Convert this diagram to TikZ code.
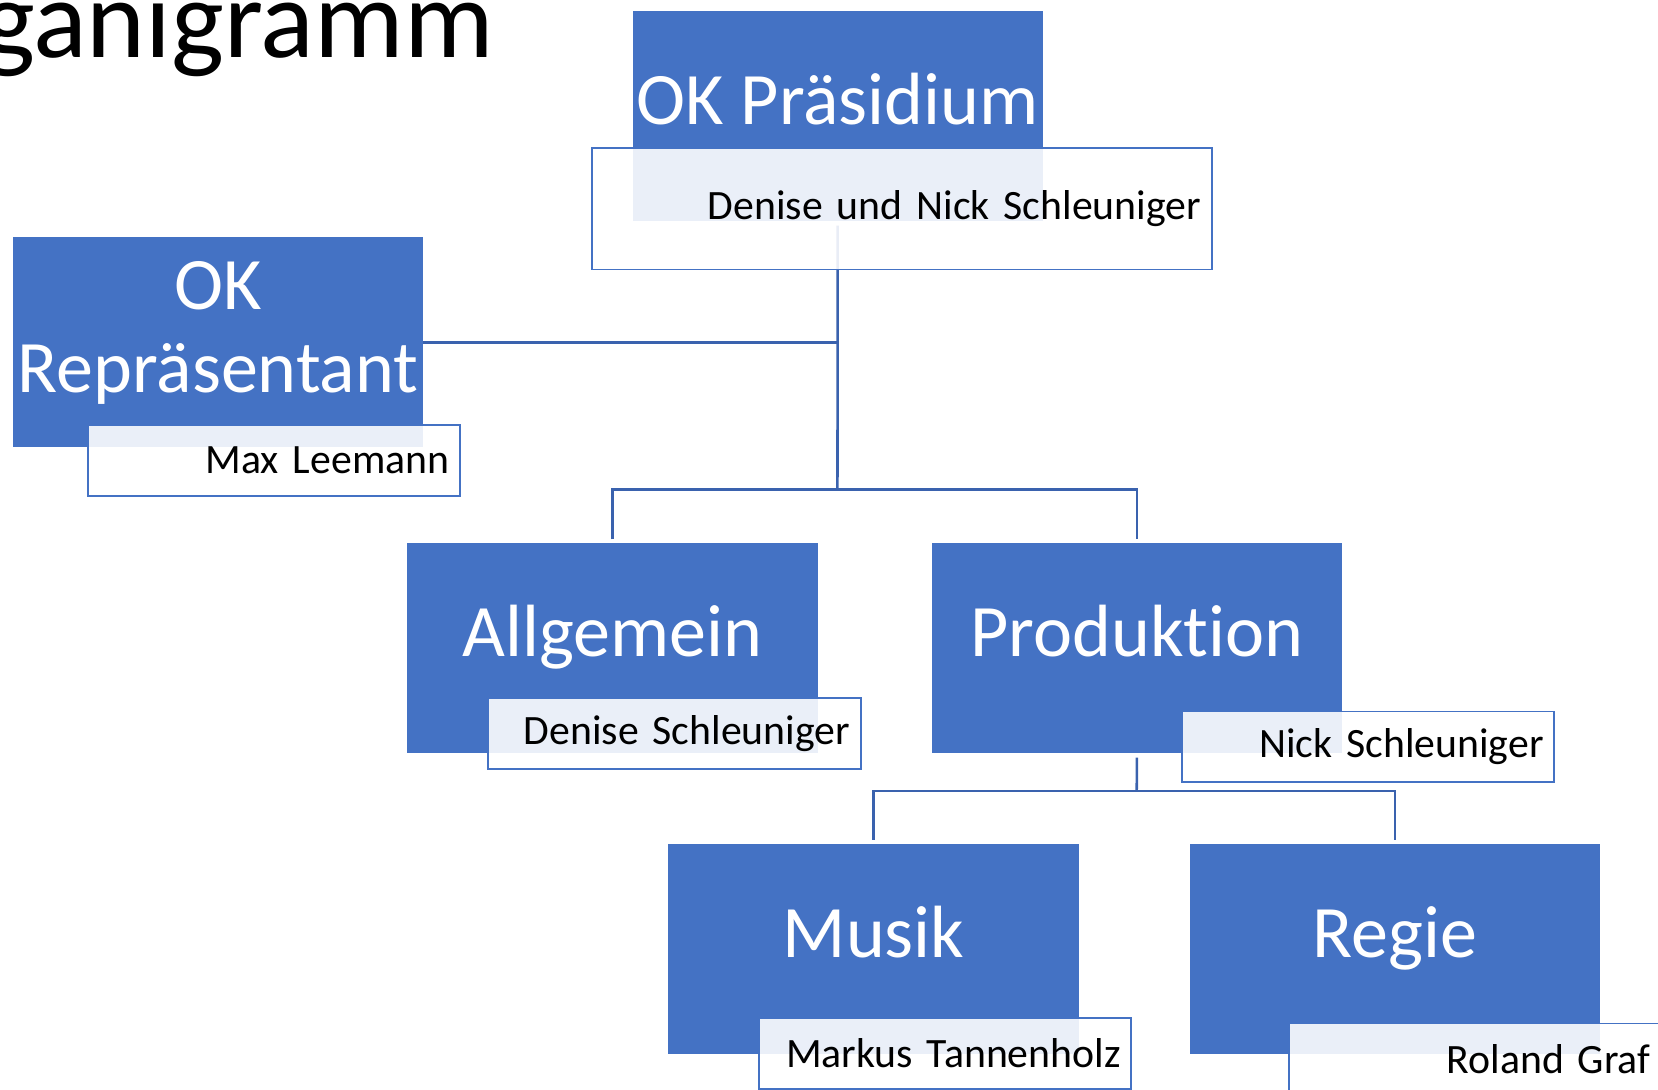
\documentclass[tikz,border=0pt]{standalone}
\usepackage{fontspec}
\setmainfont{Carlito}[Ligatures={NoCommon}]
\definecolor{okblue}{HTML}{4472C4}
\definecolor{lncol}{HTML}{3A62AE}

\begin{document}
\begin{tikzpicture}[x=1pt, y=-1pt,
                    BOX/.style = {fill=okblue, minimum width=388pt,
                              minimum height=199pt, inner sep=0pt,
                              anchor=north west},
                    MAIN/.style = {text=white, inner sep=0pt, align=center,
                              font=\fontsize{70}{78}\selectfont},
                    SUB/.style = {draw=okblue, line width=1.8pt, fill=white,
                              fill opacity=0.89, text opacity=1,
                              text width=332pt, minimum height=67pt,
                              inner xsep=10pt, inner ysep=0pt, align=right,
                              anchor=north west,
                              font=\fontsize{39.5}{47}\selectfont},
                    LN/.style = {draw=lncol, line width=2.4pt}
               ]
               \clip (0,0) rectangle (1568,1030);
               % title, cut at the left border
               \node[anchor=base east, inner sep=0pt,
                     font=\fontsize{106}{120}\selectfont] (ttl) at (467,54) {Organigramm};

               % blue boxes
               \node[BOX] (pra) at (598,10)   {};
               \node[BOX] (rep) at (12,224)   {};
               \node[BOX] (alg) at (385,513)  {};
               \node[BOX] (pro) at (881,513)  {};
               \node[BOX] (mus) at (632,798)  {};
               \node[BOX] (reg) at (1125,798) {};

               % connectors
               \coordinate (j1) at (792,463);
               \coordinate (j2) at (1075,748);
               \draw[LN] ([yshift=-4pt]pra.south) -- (j1);
               \draw[LN] (rep.east) -- (rep.east -| j1);
               \draw[LN, shorten <=3pt, shorten >=3pt] (alg.north) |- (j1) -| (pro.north);
               \draw[LN] ([yshift=-4pt]pro.south) -- (j2);
               \draw[LN, shorten <=4pt, shorten >=4pt] (mus.north) |- (j2) -| (reg.north);

               % titles
               \node[MAIN, anchor=base] (pra-t) at ([yshift=-8pt]pra.center) {OK Präsidium};
               \node[MAIN] (rep-t) at ([yshift=9pt]rep.center) {OK\\Repräsentant};
               \node[MAIN, anchor=base] (alg-t) at ([yshift=-8pt]alg.center) {Allgemein};
               \node[MAIN, anchor=base] (pro-t) at ([yshift=-8pt]pro.center) {Produktion};
               \node[MAIN, anchor=base] (mus-t) at ([yshift=-8pt]mus.center) {Musik};
               \node[MAIN, anchor=base] (reg-t) at ([yshift=-8pt]reg.center) {Regie};

               % name boxes
               \node[SUB, text width=566pt, minimum height=115pt] (pra-s) at (559,139)
                    {Denise und Nick Schleuniger};
               \node[SUB] (rep-s) at (82,401)   {Max Leemann};
               \node[SUB] (alg-s) at (461,659)  {Denise Schleuniger};
               \node[SUB] (pro-s) at (1117,672) {Nick Schleuniger};
               \node[SUB] (mus-s) at (717,962)  {Markus Tannenholz};
               \node[SUB] (reg-s) at (1218,967) {Roland Graf};
          \end{tikzpicture}
\end{document}
